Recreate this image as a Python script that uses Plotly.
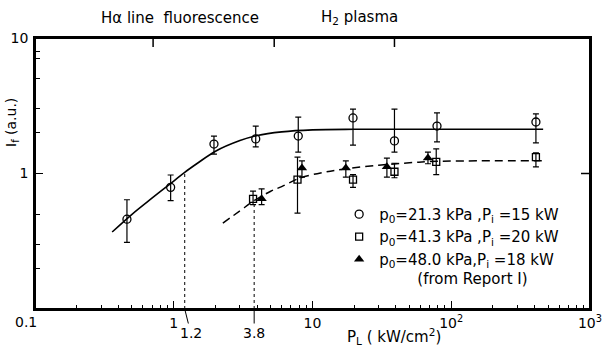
import math
import plotly.graph_objects as go

# ---- data ----
# open circles: p0=21.3 kPa, Pi=15 kW
c_x = [0.46, 0.95, 1.95, 3.9, 7.9, 19.6, 39, 79, 408]
c_y = [0.46, 0.79, 1.65, 1.80, 1.89, 2.57, 1.74, 2.24, 2.40]
c_hi = [0.64, 0.975, 1.89, 2.24, 2.61, 2.99, 2.99, 2.80, 2.75]
c_lo = [0.31, 0.63, 1.39, 1.57, 1.44, 1.62, 1.44, 1.71, 1.68]

# open squares: p0=41.3 kPa, Pi=20 kW
s_x = [3.73, 7.8, 19.6, 39, 78, 408]
s_y = [0.65, 0.90, 0.90, 1.03, 1.22, 1.32]
s_hi = [0.74, 1.32, 0.98, 1.19, 1.52, 1.42]
s_lo = [0.59, 0.51, 0.79, 0.93, 0.98, 1.12]

# filled triangles: p0=48.0 kPa, Pi=18 kW (from Report I)
t_x = [4.3, 8.4, 17.4, 34.4, 68]
t_y = [0.65, 1.10, 1.10, 1.12, 1.30]
t_hi = [0.77, 1.24, 1.24, 1.30, 1.44]
t_lo = [0.59, 0.94, 0.94, 0.94, 1.18]

# solid guide curve
sc_x = [0.36, 0.5, 0.7, 1.0, 1.2, 1.5, 2.0, 3.0, 4.0, 6.0, 10, 20, 50, 460]
sc_y = [0.37, 0.50, 0.66, 0.88, 1.02, 1.2, 1.46, 1.75, 1.91, 2.03, 2.1, 2.12, 2.12, 2.12]

# dashed guide curve
dc_x = [2.26, 3.0, 3.8, 5.0, 6.0, 8.0, 12, 17, 30, 50, 80, 490]
dc_y = [0.43, 0.53, 0.63, 0.74, 0.80, 0.92, 1.02, 1.08, 1.15, 1.2, 1.23, 1.24]

# marked threshold values
mark_x = [1.2, 3.8]
mark_y = [1.02, 0.64]
mark_labels = ["1.2", "3.8"]

x_ticks = [1, 10, 100, 1000]
x_ticktext = ["1", "10", "10<sup>2</sup>", "10<sup>3</sup>"]
y_ticks = [1, 10]
y_ticktext = ["1", "10"]
top_ticks = [0.71, 5.3, 39]
right_ticks = [1]

FONT = "DejaVu Sans"
W, H = 603, 354
L, R, T, B = 35, 590, 38, 309
XR = [-1, 3.0005]
YR = [-1, 1]


def px(xpix, ypix):
    return (xpix - L) / (R - L), (B - ypix) / (B - T)


def err(y, hi, lo):
    return dict(type="data", symmetric=False,
                array=[h - v for h, v in zip(hi, y)],
                arrayminus=[v - l for v, l in zip(y, lo)],
                color="black", thickness=1.2, width=3)


fig = go.Figure()

fig.add_trace(go.Scatter(x=sc_x, y=sc_y, mode="lines", line=dict(color="black", width=1.6, shape="spline"),
                         showlegend=False, hoverinfo="skip"))
fig.add_trace(go.Scatter(x=dc_x, y=dc_y, mode="lines",
                         line=dict(color="black", width=1.5, shape="spline", dash="8px,5px"),
                         showlegend=False, hoverinfo="skip"))

# dotted verticals
vx, vy = [], []
for xv, yv in zip(mark_x, mark_y):
    vx += [xv, xv, None]
    vy += [0.1, yv, None]
fig.add_trace(go.Scatter(x=vx, y=vy, mode="lines", line=dict(color="black", width=1, dash="dot"),
                         showlegend=False, hoverinfo="skip"))

fig.add_trace(go.Scatter(x=c_x, y=c_y, mode="markers", error_y=err(c_y, c_hi, c_lo),
                         marker=dict(symbol="circle-open", size=8, color="black", line=dict(width=1.3)),
                         name="p<sub>0</sub>=21.3 kPa ,P<sub>i</sub> =15 kW", legendgroup="a"))
fig.add_trace(go.Scatter(x=s_x, y=s_y, mode="markers", error_y=err(s_y, s_hi, s_lo),
                         marker=dict(symbol="square-open", size=7, color="black", line=dict(width=1.3)),
                         name="p<sub>0</sub>=41.3 kPa ,P<sub>i</sub> =20 kW", legendgroup="b"))
fig.add_trace(go.Scatter(x=t_x, y=t_y, mode="markers", error_y=err(t_y, t_hi, t_lo),
                         marker=dict(symbol="triangle-up", size=9, color="black"),
                         name="p<sub>0</sub>=48.0 kPa,P<sub>i</sub> =18 kW<br>" + "&nbsp;" * 8 + "(from Report I)",
                         legendgroup="c"))

axis_common = dict(showline=True, linecolor="black", linewidth=1.5, showgrid=False, zeroline=False,
                   ticks="inside", tickwidth=1.3, automargin=False, mirror=True, tickcolor="black")

fig.update_layout(
    width=W, height=H,
    margin=dict(l=L, r=W - R, t=T, b=H - B, autoexpand=False),
    paper_bgcolor="white", plot_bgcolor="white",
    font=dict(family=FONT, size=14, color="black"),
    xaxis=dict(type="log", range=XR, tickvals=x_ticks, ticktext=x_ticktext, ticklen=8,
               tickfont=dict(size=14), ticklabelstandoff=0, ticklabeloverflow="allow",
               minor=dict(ticks="inside", ticklen=4, tickcolor="black",
                          tickvals=[m * 10 ** e for e in (-1, 0, 1, 2) for m in range(2, 10)]),
               **axis_common),
    yaxis=dict(type="log", range=YR, tickvals=y_ticks, ticktext=y_ticktext, ticklen=8,
               tickfont=dict(size=14), ticklabelstandoff=2, ticklabeloverflow="allow",
               minor=dict(ticks="inside", ticklen=5, tickcolor="black",
                          tickvals=[0.2, 0.3, 0.5, 2, 3, 5, 7, 8]),
               **axis_common),
    legend=dict(x=0.548, y=0.41, xanchor="left", yanchor="top", bgcolor="rgba(0,0,0,0)",
                font=dict(family=FONT, size=15), itemwidth=30, tracegroupgap=0, valign="top"),
    showlegend=True,
)

# frame box
fig.add_shape(type="rect", xref="paper", yref="paper", x0=0, x1=1, y0=0, y1=1,
              line=dict(color="black", width=2), layer="above")
# top-frame ticks and right-frame tick
for v in top_ticks:
    xp = (math.log10(v) - XR[0]) / (XR[1] - XR[0])
    fig.add_shape(type="line", xref="paper", yref="paper", x0=xp, x1=xp, y0=1, y1=1 - 9 / (B - T),
                  line=dict(color="black", width=1.5))
for v in right_ticks:
    yp = (math.log10(v) - YR[0]) / (YR[1] - YR[0])
    fig.add_shape(type="line", xref="paper", yref="paper", x0=1, x1=1 - 9 / (R - L), y0=yp, y1=yp,
                  line=dict(color="black", width=1.5))

texts = [
    ("H\u03b1 line  fluorescence", 180, 18, 15),
    ("H<sub>2</sub> plasma", 359, 18, 15),
    ("P<sub>L</sub> ( kW/cm<sup>2</sup>)", 394, 336, 15),
    ("0.1", 26, 322, 14),
]
for t, xp, yp, fs in texts:
    ax_, ay_ = px(xp, yp)
    fig.add_annotation(text=t, x=ax_, y=ay_, xref="paper", yref="paper",
                       showarrow=False, xanchor="center", yanchor="middle", font=dict(size=fs))
ax_, ay_ = px(12, 123)
fig.add_annotation(text="I<sub>f</sub> (a.u.)", x=ax_, y=ay_, xref="paper", yref="paper",
                   xanchor="center", yanchor="middle",
                   showarrow=False, textangle=-90, font=dict(size=14))

for xv, lab, off in zip(mark_x, mark_labels, [(6, 24), (0, 24)]):
    fig.add_annotation(text=lab, x=math.log10(xv), y=0, xref="x", yref="paper", showarrow=True,
                       arrowhead=0, arrowwidth=1, arrowcolor="black", ax=off[0], ay=off[1],
                       font=dict(size=14), standoff=0)

fig.write_html("out.html")
